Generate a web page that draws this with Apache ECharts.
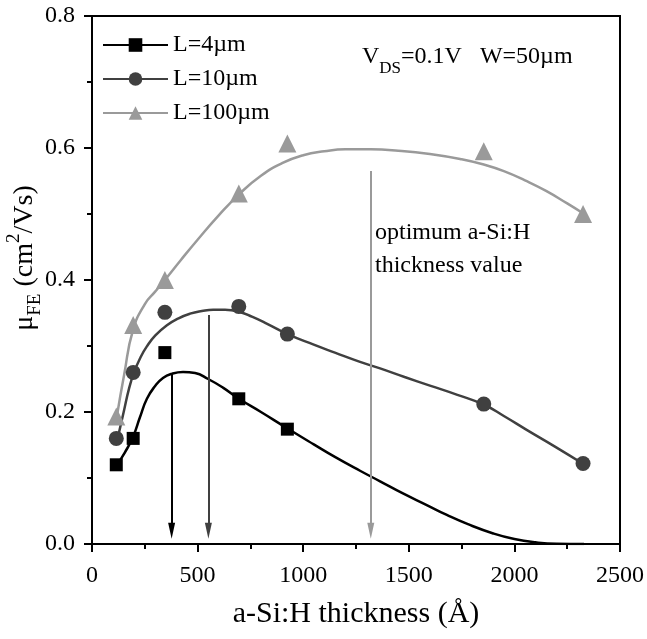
<!DOCTYPE html>
<html>
<head>
<meta charset="utf-8">
<script src="https://cdn.jsdelivr.net/npm/echarts@6/dist/echarts.min.js"></script>
<style>
html,body{margin:0;padding:0;background:#fff;}
#c{width:647px;height:639px;}
</style>
</head>
<body>
<div id="c"></div>
<script>
const FONT = '"Liberation Serif", "Times New Roman", serif';
const seriesNames = ['L=4µm', 'L=10µm', 'L=100µm'];
const colors = ['#000000', '#404040', '#9a9a9a'];
const symbols = ['rect', 'circle', 'triangle'];
const symbolSizes = [13, 15, 18];

// measured points
const x4 = [115, 195, 345, 695, 925];
const y4 = [0.12, 0.16, 0.29, 0.22, 0.174];
const x10 = [115, 195, 345, 695, 925, 1855, 2325];
const y10 = [0.16, 0.26, 0.351, 0.36, 0.318, 0.212, 0.122];
const x100 = [115, 195, 345, 695, 925, 1855, 2325];
const y100 = [0.193, 0.332, 0.40, 0.531, 0.607, 0.595, 0.50];

// fitted curves
const cx4 = [118, 156, 194, 227, 260, 298, 336, 379, 431, 488, 550, 620, 696, 800, 926, 1050, 1150, 1269, 1364, 1470, 1585, 1680, 1780, 1900, 2000, 2100, 2200, 2330];
const cy4 = [0.12, 0.139, 0.162, 0.192, 0.22, 0.239, 0.2515, 0.258, 0.2606, 0.259, 0.25, 0.237, 0.22, 0.2, 0.175, 0.151, 0.132, 0.111, 0.095, 0.077, 0.059, 0.044, 0.03, 0.016, 0.0075, 0.0025, 0.0003, 0.0];
const cx10 = [125, 150, 175, 199, 230, 259, 300, 353, 410, 464, 520, 574, 630, 696, 760, 827, 926, 1050, 1150, 1269, 1364, 1480, 1600, 1730, 1856, 1950, 2058, 2190, 2323];
const cy10 = [0.165, 0.2, 0.235, 0.26, 0.283, 0.299, 0.316, 0.331, 0.342, 0.349, 0.353, 0.355, 0.355, 0.352, 0.344, 0.334, 0.318, 0.302, 0.29, 0.276, 0.266, 0.253, 0.24, 0.226, 0.211, 0.194, 0.173, 0.148, 0.122];
const cx100 = [118, 152, 194, 251, 298, 350, 420, 500, 600, 700, 800, 900, 1000, 1100, 1200, 1320, 1450, 1600, 1750, 1855, 1950, 2050, 2150, 2250, 2330];
const cy100 = [0.194, 0.256, 0.324, 0.364, 0.382, 0.402, 0.43, 0.461, 0.498, 0.531, 0.558, 0.577, 0.589, 0.595, 0.598, 0.598, 0.596, 0.591, 0.583, 0.575, 0.565, 0.551, 0.535, 0.516, 0.50];

// optimum arrows: x position, start value, end value
const arrowX = [377, 551, 1320];
const arrowTop = [0.258, 0.347, 0.565];
const arrowEnd = [0.02, 0.02, 0.02];

const xTicks = [0, 500, 1000, 1500, 2000, 2500];
const yTicks = [0.0, 0.2, 0.4, 0.6, 0.8];

function zip(a, b) { return a.map((v, i) => [v, b[i]]); }
const curves = [zip(cx4, cy4), zip(cx10, cy10), zip(cx100, cy100)];
const points = [zip(x4, y4), zip(x10, y10), zip(x100, y100)];

const series = [];
for (let i = 0; i < 3; i++) {
  series.push({
    name: seriesNames[i],
    type: 'line',
    data: curves[i],
    smooth: 0.5,
    showSymbol: false,
    symbol: symbols[i],
    lineStyle: { color: colors[i], width: 2.5 },
    itemStyle: { color: colors[i] },
    z: 2,
    markLine: {
      silent: true,
      symbol: ['none', 'triangle'],
      symbolSize: [7, 16],
      label: { show: false },
      lineStyle: { color: colors[i], width: 2, type: 'solid' },
      data: [[{ coord: [arrowX[i], arrowTop[i]] }, { coord: [arrowX[i], arrowEnd[i]] }]]
    }
  });
}
for (let i = 0; i < 3; i++) {
  series.push({
    name: seriesNames[i],
    type: 'scatter',
    data: points[i],
    symbol: symbols[i],
    symbolSize: symbolSizes[i],
    itemStyle: { color: colors[i], opacity: 1 },
    z: 4
  });
}

const chart = echarts.init(document.getElementById('c'), null, { renderer: 'canvas' });
chart.setOption({
  animation: false,
  backgroundColor: '#fff',
  grid: { left: 92, right: 27, top: 16, bottom: 95, show: true, borderColor: '#000', borderWidth: 2, backgroundColor: 'transparent' },
  legend: {
    data: seriesNames,
    orient: 'vertical',
    left: 97, top: 27,
    itemWidth: 65, itemHeight: 17, itemGap: 8,
    textStyle: { fontFamily: FONT, fontSize: 24, color: '#000', lineHeight: 26 },
    selectedMode: false
  },
  xAxis: {
    type: 'value', min: 0, max: 2500, interval: 500,
    name: 'a-Si:H thickness (Å)', nameLocation: 'middle', nameGap: 55,
    nameTextStyle: { fontFamily: FONT, fontSize: 30, color: '#000' },
    axisLine: { lineStyle: { color: '#000', width: 2 } },
    axisTick: { show: true, inside: false, length: 8, lineStyle: { color: '#000', width: 2 } },
    minorTick: { show: true, splitNumber: 2, length: 5, lineStyle: { color: '#000', width: 2 } },
    splitLine: { show: false },
    axisLabel: { fontFamily: FONT, fontSize: 24, color: '#000', margin: 20,
      formatter: v => xTicks.includes(v) ? String(v) : '' }
  },
  yAxis: {
    type: 'value', min: 0, max: 0.8, interval: 0.2,
    axisLine: { show: true, lineStyle: { color: '#000', width: 2 } },
    axisTick: { show: true, inside: false, length: 8, lineStyle: { color: '#000', width: 2 } },
    minorTick: { show: true, splitNumber: 2, length: 5, lineStyle: { color: '#000', width: 2 } },
    splitLine: { show: false },
    axisLabel: { fontFamily: FONT, fontSize: 24, color: '#000', margin: 17,
      formatter: v => v.toFixed(1) }
  },
  graphic: [
    {
      type: 'text', x: 25, y: 258, rotation: Math.PI / 2,
      style: {
        text: '{a|μ}{sub|FE}{a| (cm}{sup|2}{a|/Vs)}',
        textAlign: 'center', textVerticalAlign: 'middle',
        fill: '#000',
        rich: {
          a: { fontFamily: FONT, fontSize: 28, lineHeight: 40, verticalAlign: 'middle' },
          sub: { fontFamily: FONT, fontSize: 19, lineHeight: 40, verticalAlign: 'bottom', padding: [16, 0, 0, 0] },
          sup: { fontFamily: FONT, fontSize: 19, lineHeight: 40, verticalAlign: 'top', padding: [0, 0, 12, 0] }
        }
      }
    },
    {
      type: 'text', x: 362, y: 37,
      style: {
        text: '{a|V}{sub|DS}{a|=0.1V   W=50µm}',
        fill: '#000',
        rich: {
          a: { fontFamily: FONT, fontSize: 24, lineHeight: 40, verticalAlign: 'middle' },
          sub: { fontFamily: FONT, fontSize: 17, lineHeight: 40, verticalAlign: 'bottom', padding: [20, 0, 0, 0] }
        }
      }
    },
    {
      type: 'text', x: 375, y: 216,
      style: {
        text: 'optimum a-Si:H\nthickness value',
        fontFamily: FONT, fontSize: 24, lineHeight: 33, fill: '#000'
      }
    }
  ],
  series: series
});
</script>
</body>
</html>
